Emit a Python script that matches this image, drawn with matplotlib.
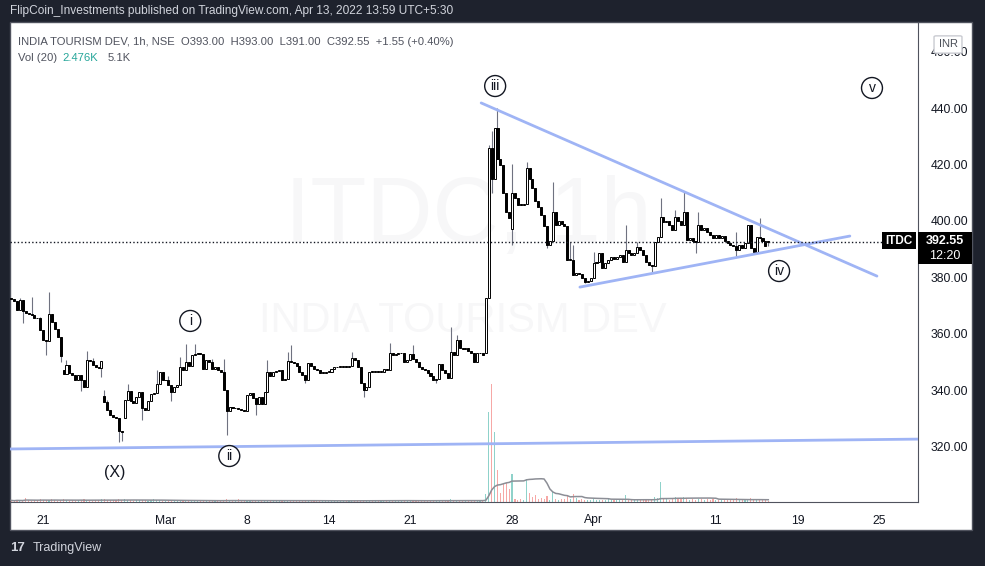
import numpy as np
import pandas as pd
import matplotlib
matplotlib.use("Agg")
import matplotlib.pyplot as plt
from matplotlib.patches import Rectangle, FancyBboxPatch

plt.rcParams['font.family'] = ['Liberation Sans', 'DejaVu Sans']

# ---------------- data ----------------
closes = [
    372.3, 371.5, 368.3, 371.9, 368.0, 367.3, 366.8, 366.5, 365.6, 365.4,
    361.3, 357.7, 357.5, 367.0, 364.2, 361.5, 358.8, 352.2, 345.6, 348.8,
    346.0, 345.2, 343.6, 345.5, 343.6, 341.0, 350.6, 350.2, 349.0, 348.2,
    347.8, 350.2, 335.8, 333.0, 331.0, 330.5, 330.0, 325.5, 325.2, 336.5,
    339.5, 336.0, 335.3, 337.5, 339.4, 333.5, 333.0, 336.0, 338.7, 339.0,
    342.3, 346.5, 343.4, 343.5, 341.7, 339.4, 341.0, 341.8, 348.2, 347.0,
    350.0, 348.5, 352.4, 352.7, 353.0, 352.8, 347.5, 350.5, 350.0, 347.5,
    348.0, 347.0, 346.5, 340.0, 332.5, 334.0, 333.5, 333.8, 333.2, 333.0,
    332.6, 338.2, 339.0, 337.0, 335.0, 337.6, 335.0, 339.4, 346.5, 345.0,
    346.5, 346.8, 347.0, 343.6, 344.0, 350.4, 350.0, 349.5, 348.5, 346.5,
    345.5, 343.6, 349.5, 348.5, 347.5, 347.0, 346.0, 346.2, 346.5, 346.5,
    347.5, 348.0, 348.3, 348.3, 348.5, 348.3, 348.5, 351.3, 350.8, 348.0,
    342.4, 340.0, 341.0, 346.5, 346.3, 346.5, 346.3, 346.5, 347.5, 347.2,
    353.0, 352.5, 352.8, 353.0, 353.0, 350.0, 350.5, 352.8, 351.0, 350.0,
    348.3, 347.5, 347.0, 346.0, 345.0, 343.7, 344.0, 349.4, 347.0, 346.0,
    344.2, 353.6, 352.4, 357.7, 355.0, 354.5, 355.0, 354.0, 353.0, 350.0,
    353.0, 353.0, 352.5, 372.5, 425.7, 415.0, 432.8, 422.0, 419.8, 409.7,
    403.2, 400.9, 409.7, 408.0, 405.7, 405.5, 405.8, 418.6, 415.0, 411.5,
    407.0, 405.0, 402.0, 398.0, 391.4, 393.0, 403.2, 398.5, 400.0, 399.0,
    398.0, 386.0, 386.1, 380.8, 381.5, 381.0, 379.6, 378.4, 378.5, 379.6,
    385.0, 385.5, 388.5, 383.2, 385.0, 386.0, 387.3, 386.5, 387.0, 388.0,
    385.5, 389.6, 388.5, 388.0, 388.5, 390.8, 389.5, 388.0, 385.5, 384.5,
    384.0, 392.6, 394.4, 401.5, 399.5, 400.0, 398.5, 396.8, 401.5, 400.0,
    398.5, 403.2, 393.2, 394.0, 392.8, 392.6, 398.5, 396.8, 397.5, 396.0,
    395.0, 393.8, 395.0, 394.0, 394.5, 393.0, 392.0, 391.4, 391.0, 389.6,
    391.5, 390.5, 392.0, 398.5, 390.2, 389.0, 394.4, 394.0, 393.0, 391.0,
    392.55,
]
first_open = 372.5
open_gaps = {18: 347.0, 32: 338.0, 39: 330.0, 163: 353.0, 172: 397.0, 260: 393.0}
high_wicks = {3: 372.5, 7: 373.0, 10: 366.0, 13: 374.8, 17: 358.0, 19: 350.5, 26: 354.0,
              28: 351.5, 32: 340.0, 33: 336.5, 40: 342.0, 50: 347.0, 54: 345.0, 58: 351.8,
              60: 356.5, 63: 356.5, 69: 351.0, 73: 350.9, 88: 350.6, 95: 353.6, 96: 356.0,
              117: 353.6, 130: 356.6, 138: 356.0, 151: 362.2, 153: 359.6, 164: 427.0,
              165: 432.0, 167: 440.0, 172: 420.0, 177: 421.0, 186: 413.9, 192: 392.6,
              193: 391.4, 200: 389.1, 211: 398.5, 215: 392.6, 223: 408.0, 228: 403.8,
              231: 410.3, 236: 403.0, 249: 396.0, 257: 400.9, 260: 393.0}
low_wicks = {4: 363.6, 12: 352.4, 17: 350.0, 24: 339.5, 31: 344.7, 37: 321.6, 38: 322.0,
             45: 329.3, 55: 336.0, 74: 324.0, 84: 331.3, 101: 342.5, 121: 337.4,
             146: 342.4, 165: 410.0, 172: 391.4, 184: 390.5, 197: 377.8, 220: 382.0,
             235: 388.5, 249: 387.3, 255: 388.5, 260: 391.0}

volumes_k = [
    3, 2, 4, 3, 2, 8, 3, 2, 3, 4, 5, 4, 3, 3, 6, 3, 2, 3, 5, 3,
    2, 3, 2, 3, 4, 5, 3, 2, 2, 3, 3, 6, 5, 4, 3, 3, 4, 5, 4, 6,
    4, 3, 2, 3, 3, 4, 3, 2, 3, 5, 4, 3, 2, 2, 3, 3, 2, 2, 4, 3,
    3, 2, 2, 3, 2, 2, 3, 2, 3, 2, 2, 2, 3, 4, 5, 3, 2, 2, 5, 2,
    3, 3, 2, 2, 3, 2, 3, 4, 3, 2, 2, 2, 2, 3, 2, 3, 3, 2, 2, 2,
    3, 2, 4, 2, 2, 2, 2, 2, 2, 2, 2, 2, 2, 2, 2, 2, 3, 3, 2, 3,
    4, 3, 2, 3, 2, 2, 2, 2, 2, 2, 4, 3, 2, 2, 3, 3, 2, 2, 2, 3,
    2, 3, 2, 3, 3, 2, 2, 3, 2, 2, 2, 5, 3, 4, 3, 2, 2, 2, 2, 3,
    2, 2, 3, 15, 170, 223, 132, 60, 17, 34, 36, 24, 52, 6, 4, 5, 4, 43, 17, 9,
    13, 6, 7, 6, 11, 4, 21, 5, 4, 5, 6, 11, 6, 15, 8, 4, 5, 4, 3, 3,
    6, 4, 3, 4, 3, 5, 3, 4, 3, 3, 4, 13, 3, 4, 3, 5, 3, 4, 4, 5,
    4, 9, 7, 38, 6, 5, 4, 5, 9, 5, 6, 10, 8, 4, 5, 4, 6, 5, 4, 5,
    4, 5, 4, 3, 4, 3, 4, 5, 3, 7, 3, 4, 3, 6, 7, 5, 4, 6, 3, 4,
    2.476,
]

time_tick_pos = [11, 53, 81, 109, 137, 172, 200, 242, 270, 298]
time_tick_labels = ['21', 'Mar', '8', '14', '21', '28', 'Apr', '11', '19', '25']
price_ticks = [320, 340, 360, 380, 400, 420, 440, 460]
last_price = 392.55

trend_lines = [  # (x0, p0, x1, p1)
    (-0.4, 319.1, 311.4, 322.6),
    (161.4, 441.8, 297.3, 380.4),
    (195.3, 376.5, 288.0, 394.6),
]
wave_labels = [('iii', 166.2, 447.8, True), ('i', 61.5, 364.5, True),
               ('ii', 74.9, 316.6, True), ('iv', 263.7, 382.2, True),
               ('v', 295.6, 447.1, True), ('(X)', 35.7, 310.9, False)]

# ---------------- derived ----------------
n = len(closes)
idx = np.arange(n)
opens = [first_open] + closes[:-1]
for k, v in open_gaps.items():
    opens[k] = v
highs = [max(o, c) for o, c in zip(opens, closes)]
lows = [min(o, c) for o, c in zip(opens, closes)]
for k, v in high_wicks.items():
    highs[k] = max(highs[k], v)
for k, v in low_wicks.items():
    lows[k] = min(lows[k], v)
up = np.array(closes) >= np.array(opens)

W, H = 985, 566
BG = '#1e222d'
fig = plt.figure(figsize=(W / 100, H / 100), dpi=100, facecolor=BG)

def fx(x):
    return x / W

def fy(y):
    return 1 - y / H

# white chart frame
fig.patches.append(Rectangle((fx(10), fy(530)), fx(962), (530 - 22) / H, transform=fig.transFigure,
                             facecolor='white', edgecolor='#50535e', lw=1, zorder=-10))

ax = fig.add_axes([fx(10), fy(502), fx(908), 480 / H])
axv = ax.twinx()
axv.set_zorder(1)
ax.set_zorder(2)
ax.patch.set_visible(False)
axv.patch.set_visible(False)

ax.set_xlim(-0.4, 311.4)
ax.set_ylim(300.3, 470.5)

# volume
vcol = np.where(up, '#8fd2ca', '#f6a8a6')
axv.bar(idx, volumes_k, width=0.38, color=vcol, linewidth=0)
ma = pd.Series(volumes_k).rolling(20, min_periods=1).mean()
axv.plot(idx, ma, color='#8c8e96', lw=1.1)
axv.set_ylim(0, 905)
axv.set_yticks([])
for s in axv.spines.values():
    s.set_visible(False)

# watermark
ax.text(157, 401, 'ITDC, 1h', fontsize=66, color='#f7f7f8', ha='center', va='center', zorder=0)
ax.text(155, 364.5, 'INDIA TOURISM DEV', fontsize=30, color='#f7f7f8', ha='center', va='center', zorder=0)

# candles
ax.vlines(idx, lows, highs, color='#6f7280', lw=0.8, zorder=2)
bottoms = np.minimum(opens, closes)
heights = np.maximum(np.abs(np.array(closes) - np.array(opens)), 0.3)
ax.bar(idx, heights, bottom=bottoms, width=0.7, color=np.where(up, 'white', 'black'),
       edgecolor='black', linewidth=0.7, zorder=3)

# trend lines
for x0, p0, x1, p1 in trend_lines:
    ax.plot([x0, x1], [p0, p1], color='#9fb4f5', lw=2, solid_capstyle='round', zorder=4)

# last price dotted line
ax.plot([-0.4, 300.5], [last_price, last_price], color='#131722', lw=1, ls=(0, (1, 1.6)), zorder=4)

# wave labels
for txt, x, p, circ in wave_labels:
    if circ:
        ax.text(x, p, txt, fontsize=10, ha='center', va='center', color='#131722', zorder=6,
                bbox=dict(boxstyle='circle,pad=0.25', fc='white', ec='#131722', lw=1))
    else:
        ax.text(x, p, txt, fontsize=11.5, ha='center', va='center', color='#131722', zorder=6)

# axes styling
ax.yaxis.tick_right()
ax.set_yticks(price_ticks)
ax.set_yticklabels([f'{p:.2f}' for p in price_ticks])
ax.tick_params(axis='y', length=0, pad=9, labelsize=8.7, labelcolor='#131722')
ax.set_xticks(time_tick_pos)
ax.set_xticklabels(time_tick_labels)
ax.tick_params(axis='x', length=0, pad=9, labelsize=8.7, labelcolor='#131722')
for s in ['top', 'left']:
    ax.spines[s].set_visible(False)
ax.spines['right'].set_color('#50535e')
ax.spines['bottom'].set_color('#50535e')

# INR box
fig.patches.append(FancyBboxPatch((fx(936), fy(52)), fx(24), 15 / H, boxstyle='round,pad=0.002',
                                  transform=fig.transFigure, fc='white', ec='#c9cbd1', lw=1, zorder=5))
fig.text(fx(948), fy(44), 'INR', fontsize=8, color='#4c5059', ha='center', va='center', zorder=6)

# ITDC / price tags
fig.patches.append(Rectangle((fx(882), fy(249)), fx(34), 17 / H, transform=fig.transFigure,
                             fc='black', ec='none', zorder=5))
fig.text(fx(899), fy(241), 'ITDC', fontsize=8.5, color='white', weight='bold', ha='center', va='center', zorder=6)
fig.patches.append(Rectangle((fx(918), fy(264)), fx(54), 32 / H, transform=fig.transFigure,
                             fc='black', ec='none', zorder=5))
fig.text(fx(945), fy(241), f'{last_price:.2f}', fontsize=9, color='white', weight='bold', ha='center', va='center', zorder=6)
fig.text(fx(945), fy(256), '12:20', fontsize=9, color='white', ha='center', va='center', zorder=6)

# header / legends
fig.text(fx(10), fy(11), 'FlipCoin_Investments published on TradingView.com, Apr 13, 2022 13:59 UTC+5:30',
         fontsize=8.6, color='#d1d4dc', ha='left', va='center')
fig.text(fx(18), fy(42), 'INDIA TOURISM DEV, 1h, NSE  O393.00  H393.00  L391.00  C392.55  +1.55 (+0.40%)',
         fontsize=8.1, color='#50535e', ha='left', va='center')
fig.text(fx(18), fy(58), 'Vol (20)', fontsize=8.1, color='#50535e', ha='left', va='center')
fig.text(fx(62), fy(58), '2.476K', fontsize=8.1, color='#26a69a', ha='left', va='center')
fig.text(fx(108), fy(58), '5.1K', fontsize=8.1, color='#50535e', ha='left', va='center')

# footer logo
fig.text(fx(10), fy(548), '17', fontsize=9.5, color='#d1d4dc', weight='bold', ha='left', va='center')
fig.text(fx(33), fy(548), 'TradingView', fontsize=9, color='#d1d4dc', ha='left', va='center')

fig.savefig('out.png', dpi=100, facecolor=BG)
